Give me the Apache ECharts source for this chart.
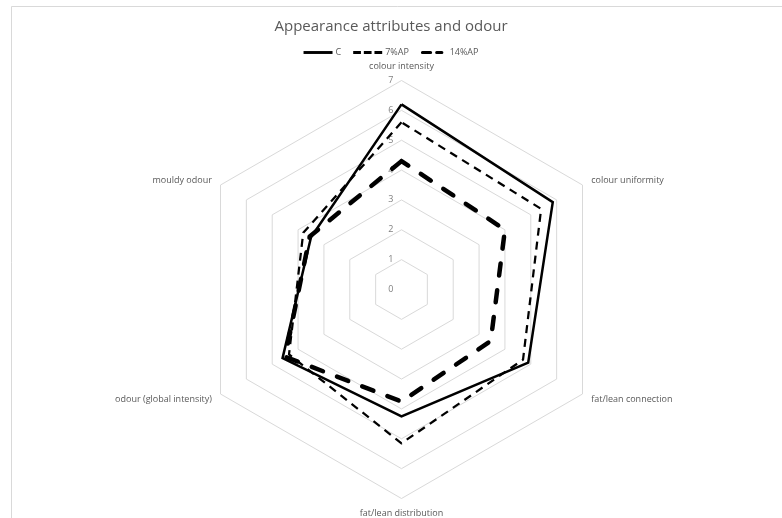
<!DOCTYPE html>
<html>
<head>
<meta charset="utf-8">
<script src="https://cdn.jsdelivr.net/npm/echarts@6/dist/echarts.min.js"></script>
<style>
  html, body { margin: 0; padding: 0; background: #fff; }
  #chart { width: 782px; height: 518px; }
</style>
</head>
<body>
<div id="chart"></div>
<script>
// Sensory attributes, listed clockwise from the top
const attributes = [
  'colour intensity',
  'colour uniformity',
  'fat/lean connection',
  'fat/lean distribution',
  'odour (global intensity)',
  'mouldy odour'
];
const seriesNames = ['C', '7%AP', '14%AP'];
const valuesC    = [6.2, 5.85, 4.9, 4.25, 4.6, 3.5];
const values7AP  = [5.6, 5.4, 4.7, 5.15, 4.35, 3.8];
const values14AP = [4.3, 4.0, 3.45, 3.75, 4.5, 3.55];
const scaleTicks = [0, 1, 2, 3, 4, 5, 6, 7];

const scaleMax = 7;
const center = [401.5, 289.5];
const radius = 209;
const textGray = '#595959';

// ECharts lays radar indicators out counter-clockwise; reverse the tail so they run clockwise
const ordered = (arr) => [arr[0]].concat(arr.slice(1).reverse());

const chart = echarts.init(document.getElementById('chart'), null, { renderer: 'canvas' });

const iconSolid = 'path://M0,0H30V3H0Z';
const iconDash = 'path://M0,0H8V3H0Z M11,0H19V3H11Z M22,0H30V3H22Z';
const iconThick = 'path://M2,0H13A2,2 0 0 1 13,4H2A2,2 0 0 1 2,0Z M21,0H28A2,2 0 0 1 28,4H21A2,2 0 0 1 21,0Z';

chart.setOption({
  backgroundColor: '#fff',
  animation: false,
  title: {
    text: 'Appearance attributes and odour',
    left: 'center',
    top: 14,
    textStyle: { color: textGray, fontFamily: 'Open Sans', fontSize: 15, fontWeight: 'normal' }
  },
  legend: {
    top: 43,
    left: 'center',
    itemGap: 12,
    itemWidth: 29,
    itemHeight: 3,
    textStyle: { color: textGray, fontFamily: 'Open Sans', fontSize: 9, padding: [0, 0, 0, -2] },
    data: [
      { name: seriesNames[0], icon: iconSolid },
      { name: seriesNames[1], icon: iconDash },
      { name: seriesNames[2], icon: iconThick }
    ],
    itemStyle: { color: '#000' }
  },
  graphic: [{
    type: 'rect',
    shape: { x: 11.5, y: 6.5, width: 800, height: 540 },
    style: { fill: 'none', stroke: '#d9d9d9', lineWidth: 1 },
    silent: true
  }],
  radar: {
    center: center,
    radius: radius,
    startAngle: 90,
    shape: 'polygon',
    splitNumber: scaleMax,
    indicator: ordered(attributes).map(n => ({ name: n, min: 0, max: scaleMax })),
    axisName: { color: textGray, fontFamily: 'Open Sans', fontSize: 9 },
    nameGap: 10,
    axisLine: { show: false },
    axisTick: { show: false },
    axisLabel: { show: false },
    splitLine: { lineStyle: { color: '#d9d9d9', width: 1 } },
    splitArea: { show: false }
  },
  // Value scale drawn along the top spoke
  polar: { center: center, radius: radius },
  angleAxis: { startAngle: 90, show: false, min: 0, max: 360 },
  radiusAxis: {
    min: 0,
    max: scaleMax,
    interval: 1,
    axisLine: { show: false },
    axisTick: { show: false },
    splitLine: { show: false },
    axisLabel: {
      color: '#808080',
      fontFamily: 'Open Sans',
      fontSize: 9,
      formatter: (v) => scaleTicks.includes(v) ? String(v) : ''
    }
  },
  series: [{
    type: 'radar',
    symbol: 'none',
    silent: true,
    data: [
      {
        name: seriesNames[0],
        value: ordered(valuesC),
        itemStyle: { color: '#000' },
        lineStyle: { color: '#000', width: 2.5, type: 'solid', join: 'miter' }
      },
      {
        name: seriesNames[1],
        value: ordered(values7AP),
        itemStyle: { color: '#000' },
        lineStyle: { color: '#000', width: 2.25, type: [8, 6] }
      },
      {
        name: seriesNames[2],
        value: ordered(values14AP),
        itemStyle: { color: '#000' },
        lineStyle: { color: '#000', width: 4.5, type: [12, 15], cap: 'round', join: 'round' }
      }
    ]
  }]
});
</script>
</body>
</html>
